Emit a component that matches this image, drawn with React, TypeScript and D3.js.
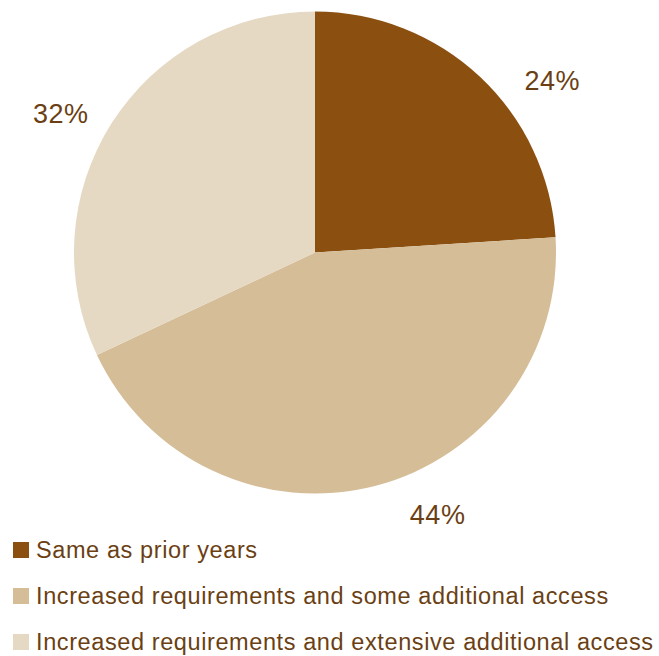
import React from "react";
import * as d3 from "d3";

const categories = [
  "Same as prior years",
  "Increased requirements and some additional access",
  "Increased requirements and extensive additional access",
];
const values = [24, 44, 32];
const labels = ["24%", "44%", "32%"];
const colors = ["#8B4F0F", "#D5BD97", "#E5D9C3"];
// label placement tweaks (dx, dy) in px
const labelNudge: [number, number][] = [
  [40, 38],
  [51, -16],
  [-11, 16],
];

export default function App() {
  const W = 659;
  const H = 656;
  const cx = 315;
  const cy = 252.5;
  const r = 241;
  const pie = d3.pie<number>().sort(null).value((d) => d)(values);
  const arc = d3.arc<d3.PieArcDatum<number>>().innerRadius(0).outerRadius(r);
  const labelArc = d3
    .arc<d3.PieArcDatum<number>>()
    .innerRadius(288)
    .outerRadius(288);
  const textColor = "#6B3F14";
  const legendY = d3.scalePoint<number>().domain([0, 1, 2]).range([550, 642]);

  return (
    <svg
      width={W}
      height={H}
      style={{ position: "absolute", left: 0, top: 0, background: "#fff" }}
      fontFamily="'Liberation Sans', Arial, sans-serif"
    >
      <g transform={`translate(${cx},${cy})`}>
        {pie.map((p, i) => (
          <path key={i} d={arc(p) || ""} fill={colors[i]} />
        ))}
        {pie.map((p, i) => {
          const [x, y] = labelArc.centroid(p);
          return (
            <text
              key={i}
              x={x + labelNudge[i][0]}
              y={y + labelNudge[i][1]}
              textAnchor="middle"
              dominantBaseline="central"
              fontSize={27}
              letterSpacing={0.5}
              fill={textColor}
            >
              {labels[i]}
            </text>
          );
        })}
      </g>
      {categories.map((c, i) => (
        <g key={i} transform={`translate(0,${legendY(i)})`}>
          <rect x={13} y={-8} width={16} height={16} fill={colors[i]} />
          <text
            x={36}
            y={0}
            dominantBaseline="central"
            fontSize={23.5}
            letterSpacing={0.6}
            fill={textColor}
          >
            {c}
          </text>
        </g>
      ))}
    </svg>
  );
}
